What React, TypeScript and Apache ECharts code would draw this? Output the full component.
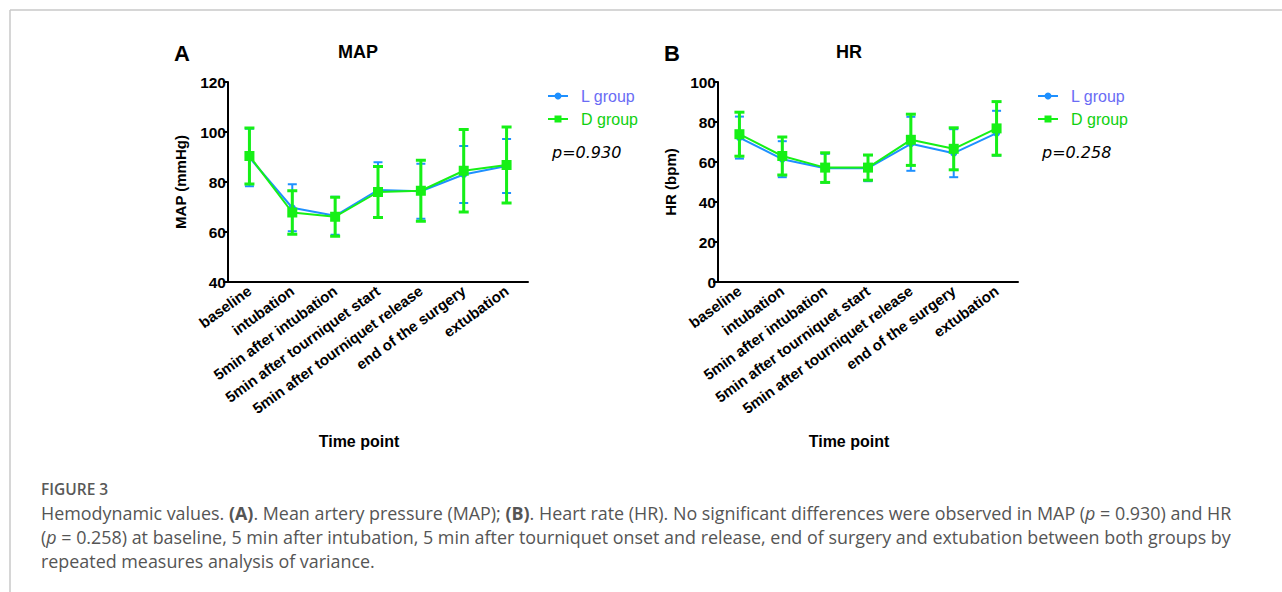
import React, { useEffect, useRef } from "react";
import * as echarts from "echarts";

const categories = [
  "baseline",
  "intubation",
  "5min after intubation",
  "5min after tourniquet start",
  "5min after tourniquet release",
  "end of the surgery",
  "extubation",
];

const mapL = [89.8, 69.7, 66.5, 76.8, 76.3, 83.0, 86.4];
const mapLsd = [11.5, 9.4, 7.6, 11.1, 11.0, 11.4, 10.8];
const mapD = [90.4, 67.8, 66.1, 76.0, 76.5, 84.5, 86.8];
const mapDsd = [11.2, 8.7, 7.8, 10.2, 12.2, 16.5, 15.2];

const hrL = [72.2, 61.4, 56.9, 56.9, 69.1, 64.4, 74.4];
const hrLsd = [10.5, 9.0, 7.2, 6.5, 13.5, 12.0, 11.2];
const hrD = [73.9, 63.0, 57.2, 57.2, 71.1, 66.6, 76.8];
const hrDsd = [11.0, 9.5, 7.4, 6.3, 12.8, 10.5, 13.4];

const BLUE = "#1e90ff";
const GREEN = "#16f016";
const FONT = "Arial, 'Liberation Sans', sans-serif";

function errData(mean: number[], sd: number[]) {
  return mean.map((m, i) => [i, m - sd[i], m + sd[i]]);
}

function errSeries(idx: number, mean: number[], sd: number[], color: string, lw: number, cap: number) {
  return {
    type: "custom",
    xAxisIndex: idx,
    yAxisIndex: idx,
    data: errData(mean, sd),
    z: color === GREEN ? 4 : 2,
    renderItem: (params: any, api: any) => {
      const x = api.value(0);
      const lo = api.coord([x, api.value(1)]);
      const hi = api.coord([x, api.value(2)]);
      const st = { stroke: color, lineWidth: lw };
      return {
        type: "group",
        children: [
          { type: "line", shape: { x1: lo[0], y1: lo[1], x2: hi[0], y2: hi[1] }, style: st },
          { type: "line", shape: { x1: lo[0] - cap / 2, y1: lo[1], x2: lo[0] + cap / 2, y2: lo[1] }, style: st },
          { type: "line", shape: { x1: hi[0] - cap / 2, y1: hi[1], x2: hi[0] + cap / 2, y2: hi[1] }, style: st },
        ],
      };
    },
  };
}

function lineSeries(idx: number, name: string, data: number[], color: string, symbol: string, size: number) {
  return {
    type: "line",
    name,
    xAxisIndex: idx,
    yAxisIndex: idx,
    data,
    symbol,
    symbolSize: size,
    z: color === GREEN ? 5 : 3,
    lineStyle: { color, width: 2 },
    itemStyle: { color },
  };
}

function xAxis(gi: number) {
  return {
    type: "category",
    gridIndex: gi,
    data: categories,
    boundaryGap: true,
    axisLine: { lineStyle: { color: "#000", width: 2 } },
    axisTick: { alignWithLabel: true, length: 5, lineStyle: { color: "#000", width: 2 } },
    axisLabel: {
      rotate: 36,
      interval: 0,
      margin: 7,
      color: "#000",
      fontWeight: "bold",
      fontSize: 15,
      fontFamily: FONT,
    },
  };
}

function yAxis(gi: number, name: string, min: number, max: number) {
  return {
    type: "value",
    gridIndex: gi,
    min,
    max,
    interval: 20,
    name,
    nameLocation: "middle",
    nameGap: 40,
    nameTextStyle: { color: "#000", fontWeight: "bold", fontSize: 15, fontFamily: FONT },
    splitLine: { show: false },
    axisLine: { show: true, lineStyle: { color: "#000", width: 2 } },
    axisTick: { show: true, length: 5, lineStyle: { color: "#000", width: 2 } },
    axisLabel: { color: "#000", fontWeight: "bold", fontSize: 15.5, margin: 2, fontFamily: FONT },
  };
}

function legendGraphic(x: number, pText: string) {
  return [
    { type: "line", shape: { x1: x, y1: 96, x2: x + 20, y2: 96 }, style: { stroke: BLUE, lineWidth: 2 } },
    { type: "circle", shape: { cx: x + 10, cy: 96, r: 3.5 }, style: { fill: BLUE } },
    {
      type: "text",
      x: x + 33,
      y: 96,
      style: { text: "L group", fill: "#6a6cf5", fontSize: 16, fontFamily: FONT, verticalAlign: "middle" },
    },
    { type: "line", shape: { x1: x, y1: 119, x2: x + 20, y2: 119 }, style: { stroke: GREEN, lineWidth: 2 } },
    { type: "rect", shape: { x: x + 6.5, y: 115.5, width: 7, height: 7 }, style: { fill: GREEN } },
    {
      type: "text",
      x: x + 33,
      y: 119,
      style: { text: "D group", fill: "#10d010", fontSize: 16, fontFamily: FONT, verticalAlign: "middle" },
    },
    {
      type: "text",
      x: x + 4,
      y: 152,
      style: { text: pText, fill: "#000", fontSize: 16, fontStyle: "italic", fontFamily: "'DejaVu Sans', sans-serif", verticalAlign: "middle" },
    },
  ];
}

function panelText(letterX: number, titleX: number, letter: string, title: string, axisTitleX: number) {
  return [
    {
      type: "text",
      x: letterX,
      y: 53,
      style: { text: letter, fill: "#000", fontSize: 22, fontWeight: "bold", fontFamily: FONT, align: "center", verticalAlign: "middle" },
    },
    {
      type: "text",
      x: titleX,
      y: 52,
      style: { text: title, fill: "#000", fontSize: 18, fontWeight: "bold", fontFamily: FONT, align: "center", verticalAlign: "middle" },
    },
    {
      type: "text",
      x: axisTitleX,
      y: 441,
      style: { text: "Time point", fill: "#000", fontSize: 16, fontWeight: "bold", fontFamily: FONT, align: "center", verticalAlign: "middle" },
    },
  ];
}

const CAP_FONT = "'Open Sans', 'Noto Sans', sans-serif";
const CAP_SIZE = 17.9;
const capRich = {
  b: { fontWeight: "bold", fontSize: CAP_SIZE, fill: "#555", fontFamily: CAP_FONT },
  i: { fontStyle: "italic", fontSize: CAP_SIZE, fill: "#555", fontFamily: CAP_FONT },
};

function capLine(y: number, text: string) {
  return {
    type: "text",
    x: 41,
    y,
    style: {
      text,
      fill: "#555",
      fontSize: CAP_SIZE,
      fontFamily: CAP_FONT,
      verticalAlign: "middle",
      rich: capRich,
    },
  };
}

export default function App() {
  const ref = useRef<HTMLDivElement>(null);
  useEffect(() => {
    if (!ref.current) return;
    const chart = echarts.init(ref.current, null, { renderer: "svg" });
    chart.setOption({
      animation: false,
      backgroundColor: "#fff",
      grid: [
        { left: 228, top: 82, width: 300, height: 200 },
        { left: 718, top: 82, width: 300, height: 200 },
      ],
      xAxis: [xAxis(0), xAxis(1)],
      yAxis: [yAxis(0, "MAP (mmHg)", 40, 120), yAxis(1, "HR (bpm)", 0, 100)],
      series: [
        errSeries(0, mapL, mapLsd, BLUE, 2, 9),
        lineSeries(0, "L group", mapL, BLUE, "circle", 7),
        errSeries(0, mapD, mapDsd, GREEN, 3, 10),
        lineSeries(0, "D group", mapD, GREEN, "rect", 10),
        errSeries(1, hrL, hrLsd, BLUE, 2, 9),
        lineSeries(1, "L group", hrL, BLUE, "circle", 7),
        errSeries(1, hrD, hrDsd, GREEN, 3, 10),
        lineSeries(1, "D group", hrD, GREEN, "rect", 10),
      ],
      graphic: [
        { type: "line", shape: { x1: 10, y1: 10, x2: 1282, y2: 10 }, style: { stroke: "#c8c8c8", lineWidth: 1.5 } },
        { type: "line", shape: { x1: 10, y1: 10, x2: 10, y2: 592 }, style: { stroke: "#c8c8c8", lineWidth: 1.5 } },
        ...panelText(182, 358, "A", "MAP", 359),
        ...panelText(672, 849, "B", "HR", 849),
        ...legendGraphic(548, "p=0.930"),
        ...legendGraphic(1038, "p=0.258"),
        {
          type: "text",
          x: 41,
          y: 489,
          style: { text: "FIGURE 3", fill: "#595959", fontSize: 15.5, fontWeight: 600, fontFamily: CAP_FONT, verticalAlign: "middle" },
        },
        capLine(
          513,
          "Hemodynamic values. {b|(A)}. Mean artery pressure (MAP); {b|(B)}. Heart rate (HR). No significant differences were observed in MAP ({i|p} = 0.930) and HR"
        ),
        capLine(
          537,
          "({i|p} = 0.258) at baseline, 5 min after intubation, 5 min after tourniquet onset and release, end of surgery and extubation between both groups by"
        ),
        capLine(561, "repeated measures analysis of variance."),
      ],
    });
    return () => chart.dispose();
  }, []);
  return (
    <div
      ref={ref}
      style={{ position: "fixed", left: 0, top: 0, width: 1282, height: 592, background: "#fff" }}
    />
  );
}
